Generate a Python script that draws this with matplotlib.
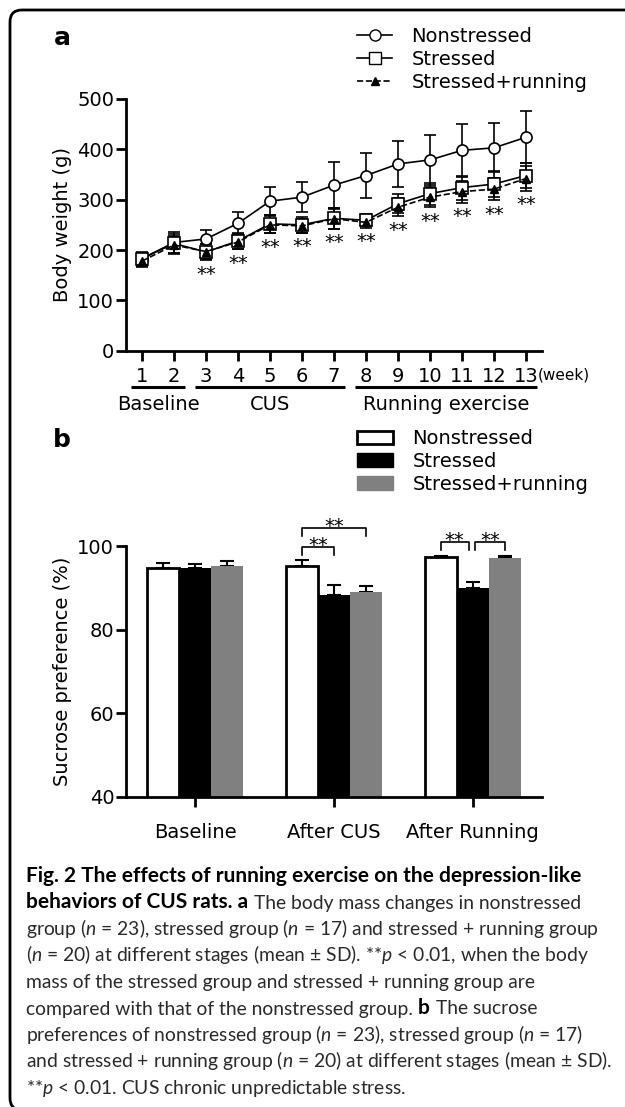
import matplotlib
matplotlib.use("Agg")
import matplotlib.pyplot as plt
import matplotlib.transforms as mtransforms
from matplotlib.lines import Line2D
from matplotlib.patches import Patch, FancyBboxPatch
import numpy as np
#============================================================
# panel a : body weight (g), mean and SD per week
weeks = [1, 2, 3, 4, 5, 6, 7, 8, 9, 10, 11, 12, 13]
non_mean = [183, 215, 222, 253, 297, 305, 329, 348, 371, 379, 398, 403, 424]
non_sd = [14, 20, 18, 22, 28, 30, 45, 45, 46, 49, 52, 49, 52]
str_mean = [183, 213, 196, 218, 252, 250, 263, 259, 292, 312, 324, 331, 348]
str_sd = [12, 18, 16, 15, 18, 16, 21, 12, 19, 22, 24, 25, 25]
run_mean = [178, 210, 197, 216, 250, 248, 262, 255, 285, 305, 316, 321, 342]
run_sd = [12, 17, 14, 14, 17, 14, 20, 11, 18, 20, 22, 22, 24]
star_weeks = [3, 4, 5, 6, 7, 8, 9, 10, 11, 12, 13]
phases = ["Baseline", "CUS", "Running exercise"]
phase_start = [1, 3, 8]
phase_end = [2, 7, 13]

# panel b : sucrose preference (%)
stages = ["Baseline", "After CUS", "After Running"]
non_sp = [94.7, 95.3, 97.4]
non_sp_sd = [1.2, 1.3, 0.1]
str_sp = [94.7, 88.3, 90.0]
str_sp_sd = [1.1, 2.3, 1.4]
run_sp = [95.3, 89.0, 97.2]
run_sp_sd = [1.1, 1.5, 0.3]
# (stage, bar from, bar to, bracket level)
compare = [(1, 0, 1, 99.8), (1, 0, 2, 104.3), (2, 0, 1, 101.0), (2, 1, 2, 101.0)]

# caption, one list of (text, bold?) pieces per line
caption = [
    [("Fig. 2 The effects of running exercise on the depression-like", True)],
    [("behaviors of CUS rats. a", True), ("The body mass changes in nonstressed", False)],
    [(r"group ($n$ = 23), stressed group ($n$ = 17) and stressed + running group", False)],
    [(r"($n$ = 20) at different stages (mean ± SD). **$p$ < 0.01, when the body", False)],
    [("mass of the stressed group and stressed + running group are", False)],
    [("compared with that of the nonstressed group.", False), ("b", True), ("The sucrose", False)],
    [(r"preferences of nonstressed group ($n$ = 23), stressed group ($n$ = 17)", False)],
    [(r"and stressed + running group ($n$ = 20) at different stages (mean ± SD).", False)],
    [(r"**$p$ < 0.01. CUS chronic unpredictable stress.", False)],
]
#============================================================
plt.rcParams["font.family"] = ["DejaVu Sans"]
plt.rcParams["mathtext.fontset"] = "custom"
plt.rcParams["mathtext.rm"] = "Lato"
plt.rcParams["mathtext.it"] = "Lato:italic"
plt.rcParams["mathtext.bf"] = "Lato:bold"

W, H = 625, 1107
fig = plt.figure(figsize=(W / 100, H / 100), dpi=100)


def px_rect(l, t, r, b):
    return [l / W, 1 - b / H, (r - l) / W, (b - t) / H]


def style_axes(ax):
    for s in ["top", "right"]:
        ax.spines[s].set_visible(False)
    for s in ["left", "bottom"]:
        ax.spines[s].set_linewidth(2)
    ax.tick_params(direction="out", length=7, width=2, labelsize=14, pad=1.5)


# frame round everything
frame = FancyBboxPatch((10, -3), 800, H - 10 + 3, boxstyle="round,pad=0,rounding_size=12",
                       fill=False, edgecolor="black", linewidth=2,
                       transform=mtransforms.IdentityTransform())
fig.add_artist(frame)

#============================================================
# panel a
ax1 = fig.add_axes(px_rect(126, 99, 542, 350.7))
style_axes(ax1)
ax1.errorbar(weeks, non_mean, yerr=non_sd, color="black", lw=1.2, marker="o", ms=8,
             mfc="white", mec="black", mew=1.2, capsize=4.5, capthick=1.2, elinewidth=1.2)
ax1.errorbar(weeks, str_mean, yerr=str_sd, color="black", lw=1.2, marker="s", ms=8,
             mfc="white", mec="black", mew=1.2, capsize=4.5, capthick=1.2, elinewidth=1.2)
ax1.errorbar(weeks, run_mean, yerr=run_sd, color="black", lw=1.2, ls="--", marker="^", ms=6,
             mfc="black", mec="black", capsize=4.5, capthick=1.2, elinewidth=1.2)
for wk in star_weeks:
    i = weeks.index(wk)
    low = min(str_mean[i] - str_sd[i], run_mean[i] - run_sd[i])
    ax1.text(wk, low - 9, "**", ha="center", va="top", fontsize=14)
ax1.set_xlim(0.5, 13.5)
ax1.set_ylim(0, 500)
ax1.set_yticks([0, 100, 200, 300, 400, 500])
ax1.set_xticks(weeks)
ax1.tick_params(axis="x", pad=5)
ax1.set_ylabel("Body weight (g)", fontsize=14)
ax1.yaxis.set_label_coords(-0.13, 0.5)

trans = mtransforms.blended_transform_factory(ax1.transData, ax1.transAxes)
ax1.text(weeks[-1] + 0.38, -0.097, "(week)", transform=trans, ha="left", va="center", fontsize=11)
for name, a, b in zip(phases, phase_start, phase_end):
    ax1.plot([a - 0.34, b + 0.34], [-0.144, -0.144], transform=trans, color="black",
             lw=2.2, clip_on=False, solid_capstyle="butt")
    ax1.text((a + b) / 2, -0.212, name, transform=trans, ha="center", va="center", fontsize=14)

handles_a = [
    Line2D([], [], color="black", lw=1.2, marker="o", ms=8, mfc="white", mec="black"),
    Line2D([], [], color="black", lw=1.2, marker="s", ms=8, mfc="white", mec="black"),
    Line2D([], [], color="black", lw=1.2, ls="--", marker="^", ms=6, mfc="black"),
]
fig.legend(handles_a, ["Nonstressed", "Stressed", "Stressed+running"], loc="upper left",
           bbox_to_anchor=(357 / W, 1 - 27 / H), frameon=False, fontsize=14,
           borderpad=0, borderaxespad=0, handlelength=1.8, handletextpad=1.0,
           labelspacing=0.2)
fig.text(62 / W, 1 - 45 / H, "a", fontsize=18, fontweight="bold", ha="center", va="baseline")

#============================================================
# panel b
ax2 = fig.add_axes(px_rect(126, 546, 542, 797))
style_axes(ax2)
x = np.arange(len(stages))
bw = 0.23
groups = [(non_sp, non_sp_sd), (str_sp, str_sp_sd), (run_sp, run_sp_sd)]
ax2.bar(x - bw, non_sp, bw, color="white", edgecolor="black", linewidth=2, zorder=2)
ax2.bar(x, str_sp, bw, color="black", edgecolor="black", linewidth=0, zorder=2)
ax2.bar(x + bw, run_sp, bw, color="#808080", linewidth=0, zorder=2)
for k, (vals, sds) in enumerate(groups):
    ax2.errorbar(x + (k - 1) * bw, vals, yerr=[np.zeros(len(sds)), sds], fmt="none",
                 ecolor="black", elinewidth=1.5, capsize=5, capthick=1.5, zorder=1)
for st, i, j, lev in compare:
    x1 = st + (i - 1) * bw
    x2 = st + (j - 1) * bw
    if j - i == 1 and st == 2:
        x1 += 0.02 if i == 1 else -0.0
        x2 -= 0.03 if i == 0 else 0.0
    ax2.plot([x1, x1, x2, x2], [lev - 1.9, lev, lev, lev - 1.9], color="black", lw=1.2,
             clip_on=False)
    ax2.text((x1 + x2) / 2, lev - 0.9, "**", ha="center", va="baseline", fontsize=14)
ax2.set_xlim(-0.5, 2.5)
ax2.set_ylim(40, 100)
ax2.set_yticks([40, 60, 80, 100])
ax2.set_xticks(x)
ax2.set_xticklabels(stages)
ax2.tick_params(axis="x", pad=12)
ax2.set_ylabel("Sucrose preference (%)", fontsize=14)
ax2.yaxis.set_label_coords(-0.13, 0.5)

handles_b = [
    Patch(facecolor="white", edgecolor="black", linewidth=2),
    Patch(facecolor="black", edgecolor="black"),
    Patch(facecolor="#808080", edgecolor="#808080"),
]
fig.legend(handles_b, ["Nonstressed", "Stressed", "Stressed+running"], loc="upper left",
           bbox_to_anchor=(357 / W, 1 - 429 / H), frameon=False, fontsize=14,
           borderpad=0, borderaxespad=0, handlelength=1.85, handleheight=0.67,
           handletextpad=1.0, labelspacing=0.2)
fig.text(62 / W, 1 - 447 / H, "b", fontsize=18, fontweight="bold", ha="center", va="baseline")

#============================================================
# caption, pieces put one after the other
renderer = fig.canvas.get_renderer()
for n, pieces in enumerate(caption):
    xpos = 26
    ypos = H - (882 + 26.5 * n)
    for txt, bold in pieces:
        size = 15.0 if bold else 13.85
        t = fig.text(xpos / W, ypos / H, txt, family="Lato", fontsize=size,
                     fontweight="bold" if bold else "normal",
                     color="black" if bold else "#2a2a2a", ha="left", va="baseline")
        xpos = t.get_window_extent(renderer).x1 + 0.27 * size * 100 / 72

fig.savefig("out.png", dpi=100)
